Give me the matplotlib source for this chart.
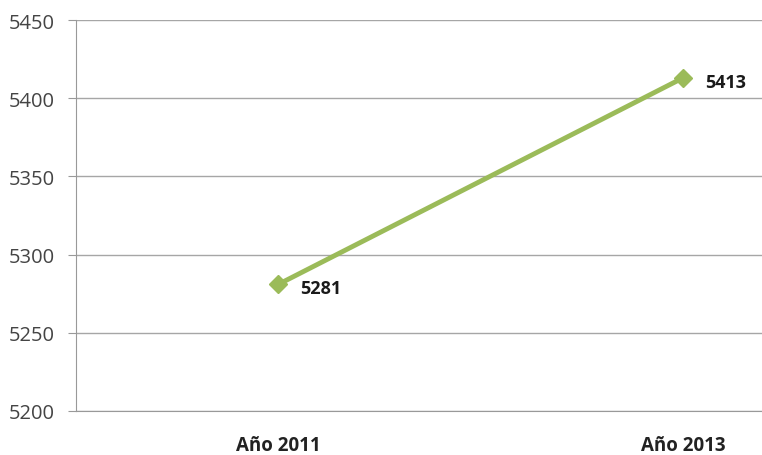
import matplotlib.pyplot as plt

categories = ["Año 2011", "Año 2013"]
values = [5281, 5413]
yticks = [5200, 5250, 5300, 5350, 5400, 5450]

plt.rcParams['font.family'] = ['Open Sans', 'DejaVu Sans']

fig = plt.figure(figsize=(7.62, 4.56), dpi=100)
ax = fig.add_axes([76 / 762, 44 / 456, 1 - 76 / 762, 391 / 456])

x = list(range(len(categories)))
ax.plot(x, values, color='#9bbb59', lw=3.5, marker='D', ms=9, zorder=3)
for xi, v in zip(x, values):
    ax.annotate(str(v), (xi, v), xytext=(16, -3), textcoords='offset points',
                fontsize=13, fontweight='bold', color='#1a1a1a', va='center')

ax.set_ylim(5200, 5450)
ax.set_yticks(yticks)
ax.set_xlim(-0.5, 1.195)
ax.set_xticks(x)
ax.set_xticklabels(categories, fontweight='bold', fontsize=13.5, color='#222222')
ax.tick_params(axis='x', length=0, pad=17)
ax.tick_params(axis='y', length=6, color='#999999', labelsize=14.5, labelcolor='#444444', pad=9)
ax.yaxis.grid(True, color='#a6a6a6', lw=1)
ax.set_axisbelow(True)
for s in ['top', 'right']:
    ax.spines[s].set_visible(False)
ax.spines['left'].set_color('#999999')
ax.spines['bottom'].set_color('#999999')

fig.savefig('out.png', dpi=100)
